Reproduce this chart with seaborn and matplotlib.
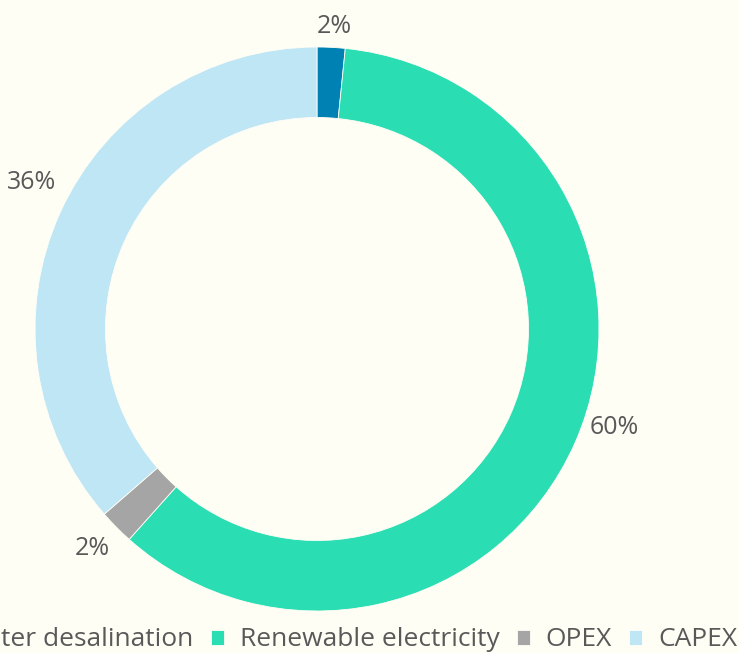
import matplotlib.pyplot as plt
import seaborn as sns

#Cost shares of the desalinated water (percent)
labels = ["Water desalination", "Renewable electricity", "OPEX", "CAPEX"]
shares = [1.6, 60.0, 2.0, 36.4]
colors = ["#0081B4", "#2BDDB3", "#A5A5A5", "#BEE6F5"]

bg = "#FFFEF5"
text_color = "#595959"

#Where the percentage labels sit (ring radius = 1)
label_xy = [(0.060, 1.071), (1.053, -0.351), (-0.798, -0.777), (-1.011, 0.518)]

sns.set_theme(style = "white")
plt.rcParams["font.family"] = ["Open Sans", "DejaVu Sans"]

fig = plt.figure(figsize = (7.39, 6.53), dpi = 100, facecolor = bg)
ax = fig.add_axes([0, 0, 1, 1])
ax.set_facecolor(bg)

wedges, texts, autotexts = ax.pie(shares, colors = colors, startangle = 90, counterclock = False,
                                  autopct = "%.0f%%", pctdistance = 1.11,
                                  wedgeprops = dict(width = 0.25, edgecolor = bg, linewidth = 0.6),
                                  textprops = dict(color = text_color, fontsize = 18))
for t, xy in zip(autotexts, label_xy):
    t.set_position(xy)
    t.set_va("center")
    t.set_ha("center")

#Place the ring: centre at (317, 329) px, radius 282 px
ax.set_xlim(-317 / 282, (739 - 317) / 282)
ax.set_ylim(-(653 - 329) / 282, 329 / 282)
ax.set_aspect("auto")
ax.axis("off")

fig.legend(wedges, labels, loc = "center right", bbox_to_anchor = (1.03, 0.02), ncol = 4,
           frameon = False, fontsize = 19, labelcolor = text_color,
           handlelength = 0.5, handleheight = 0.5, handletextpad = 0.6, columnspacing = 0.65)

fig.savefig("out.png", dpi = 100, facecolor = bg)
